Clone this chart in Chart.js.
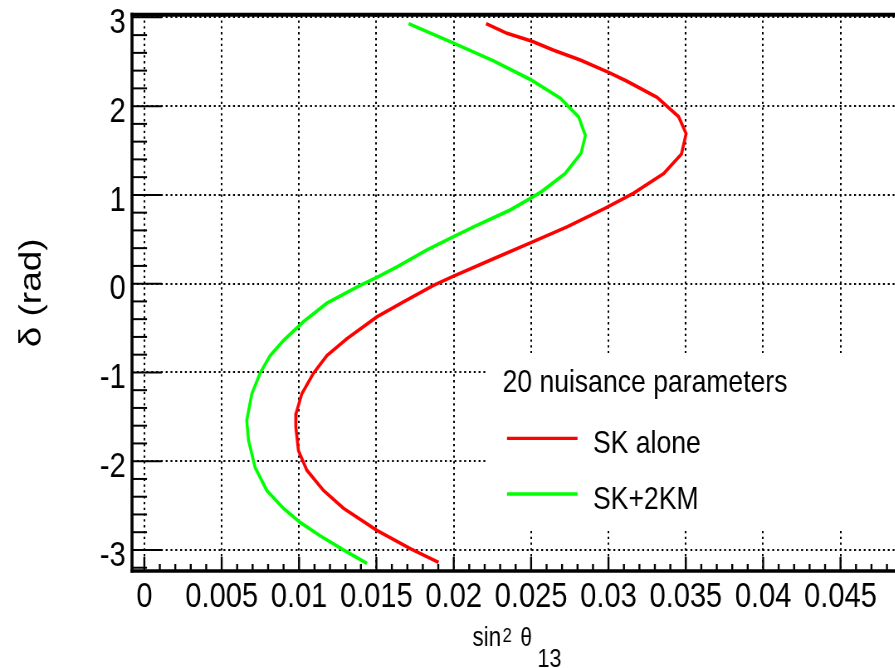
<!DOCTYPE html>
<html><head><meta charset="utf-8">
<script src="https://cdn.jsdelivr.net/npm/chart.js@4.4.0/dist/chart.umd.min.js"></script>
<style>
html,body{margin:0;padding:0;background:#fff;overflow:hidden;width:895px;height:668px}
canvas{display:block;transform:scaleX(0.83);transform-origin:0 0}
</style>
</head><body>
<canvas id="c" width="1104" height="668" style="width:1104px;height:668px"></canvas>
<script>
// ---- data ----
const SK_ALONE_X = [0.02209,0.02344,0.02506,0.02646,0.02818,0.03001,0.03120,0.03314,0.03454,0.03502,0.03472,0.03357,0.03163,0.02980,0.02732,0.02495,0.02257,0.01999,0.01869,0.01675,0.01503,0.01309,0.01180,0.01093,0.01018,0.00981,0.00979,0.00996,0.01050,0.01158,0.01287,0.01503,0.01719,0.01902];
const SK_ALONE_Y = [2.93,2.82,2.73,2.63,2.52,2.38,2.28,2.10,1.88,1.69,1.46,1.24,1.02,0.85,0.64,0.46,0.28,0.085,-0.02,-0.205,-0.374,-0.62,-0.81,-1.01,-1.24,-1.46,-1.61,-1.88,-2.10,-2.33,-2.53,-2.78,-2.985,-3.14];
const SK_2KM_X = [0.01708,0.01999,0.02257,0.02495,0.02689,0.02807,0.02851,0.02823,0.02720,0.02570,0.02495,0.02365,0.02128,0.01999,0.01827,0.01633,0.01503,0.01395,0.01180,0.01028,0.00900,0.00813,0.00748,0.00695,0.00662,0.00673,0.00716,0.00792,0.00899,0.01007,0.01136,0.01287,0.01439];
const SK_2KM_Y = [2.93,2.71,2.51,2.30,2.09,1.88,1.67,1.47,1.24,1.04,0.96,0.83,0.64,0.53,0.38,0.19,0.07,-0.02,-0.22,-0.43,-0.64,-0.81,-1.01,-1.24,-1.54,-1.76,-2.07,-2.33,-2.53,-2.69,-2.84,-3.00,-3.15];
const SERIES_LABELS = ['SK alone','SK+2KM'];
const SERIES_COLORS = ['#ff0000','#00ff00'];
const LEGEND_TITLE = '20 nuisance parameters';
const X_TICKS = [0,0.005,0.01,0.015,0.02,0.025,0.03,0.035,0.04,0.045];
const X_TICK_LABELS = ['0','0.005','0.01','0.015','0.02','0.025','0.03','0.035','0.04','0.045'];
const Y_TICKS = [-3,-2,-1,0,1,2,3];
const Y_TICK_LABELS = ['-3','-2','-1','0','1','2','3'];
const X_TITLE_PARTS = ['sin','2','\u03B8','13'];
const Y_TITLE = '\u03B4 (rad)';

const S = 0.83;               // horizontal squash of the whole picture
const FONT = '"Liberation Sans",Arial,sans-serif';
const sx = v => v / S;        // screen x -> canvas x

function pts(xs, ys){ return xs.map((x,i)=>({x:x, y:ys[i]})); }

const decor = {
  id:'decor',
  afterDatasetsDraw(chart){
    const ctx = chart.ctx, a = chart.chartArea;
    const xs = chart.scales.x, ys = chart.scales.y;
    ctx.save();
    ctx.strokeStyle = '#000';
    ctx.setLineDash([]);
    // x ticks (inside, upward)
    ctx.lineWidth = 2.4;
    for (let i = 0; i <= 49; i++) {
      const px = xs.getPixelForValue(i * 0.001);
      const len = (i % 5 === 0) ? 14 : 7;
      ctx.beginPath(); ctx.moveTo(px, a.bottom); ctx.lineTo(px, a.bottom - len); ctx.stroke();
    }
    // y ticks (inside, rightward)
    ctx.lineWidth = 2;
    for (let i = -16; i <= 15; i++) {
      const py = ys.getPixelForValue(i * 0.2);
      const len = (i % 5 === 0) ? sx(30) : sx(15);
      ctx.beginPath(); ctx.moveTo(a.left, py); ctx.lineTo(a.left + len, py); ctx.stroke();
    }
    // frame
    ctx.lineWidth = 3.6;
    ctx.beginPath(); ctx.moveTo(a.left, a.top - 2); ctx.lineTo(a.left, a.bottom + 1.6); ctx.stroke();
    ctx.lineWidth = 3.3;
    ctx.beginPath(); ctx.moveTo(a.left - 1.8, a.bottom); ctx.lineTo(a.right, a.bottom); ctx.stroke();
    ctx.lineWidth = 4;
    ctx.beginPath(); ctx.moveTo(a.left - 1.8, a.top); ctx.lineTo(a.right, a.top); ctx.stroke();

    // legend box
    ctx.fillStyle = '#fff';
    ctx.fillRect(sx(488), 353, sx(440), 175);
    ctx.fillStyle = '#000';
    ctx.textAlign = 'left';
    ctx.textBaseline = 'alphabetic';
    ctx.font = '32px ' + FONT;
    ctx.fillText(LEGEND_TITLE, sx(502.5), 391.7);
    const rows = [438.3, 494];
    const base = [452.7, 509.3];
    chart.data.datasets.forEach((ds, i) => {
      ctx.strokeStyle = ds.borderColor;
      ctx.lineWidth = 3.3;
      ctx.beginPath(); ctx.moveTo(sx(507), rows[i]); ctx.lineTo(sx(577.5), rows[i]); ctx.stroke();
      ctx.fillStyle = '#000';
      ctx.fillText(ds.label, sx(593), base[i]);
    });

    // x title: sin^2 theta_13
    ctx.fillStyle = '#000';
    ctx.font = '27px ' + FONT;
    ctx.fillText(X_TITLE_PARTS[0], sx(472.5), 645.7);
    ctx.font = '20px ' + FONT;
    ctx.fillText(X_TITLE_PARTS[1], sx(502.5), 642);
    ctx.font = '25px ' + FONT;
    ctx.fillText(X_TITLE_PARTS[2], sx(520.5), 645.7);
    ctx.font = '26px ' + FONT;
    ctx.fillText(X_TITLE_PARTS[3], sx(537.5), 666.5);
    ctx.restore();
  }
};

new Chart(document.getElementById('c'), {
  type: 'scatter',
  data: {
    datasets: [
      { label: SERIES_LABELS[0], data: pts(SK_ALONE_X, SK_ALONE_Y), showLine: true, borderColor: SERIES_COLORS[0], backgroundColor: SERIES_COLORS[0], borderWidth: 3.6, pointRadius: 0, tension: 0, fill: false },
      { label: SERIES_LABELS[1], data: pts(SK_2KM_X, SK_2KM_Y), showLine: true, borderColor: SERIES_COLORS[1], backgroundColor: SERIES_COLORS[1], borderWidth: 3.6, pointRadius: 0, tension: 0, fill: false }
    ]
  },
  options: {
    responsive: false,
    animation: false,
    events: [],
    layout: { padding: { top: 14.7, right: 0, bottom: 0, left: 0 } },
    plugins: { legend: { display: false }, tooltip: { enabled: false }, title: { display: false } },
    scales: {
      x: {
        type: 'linear', position: 'bottom',
        min: -0.000796, max: 0.0499,
        afterBuildTicks(s){ s.ticks = X_TICKS.map(v => ({value: v})); },
        afterFit(s){ s.height = 97; s.paddingLeft = 0; s.paddingRight = 0; },
        ticks: {
          includeBounds: false, maxRotation: 0, minRotation: 0, autoSkip: false, padding: 5,
          color: '#000', font: { family: FONT, size: 35 },
          callback(v){ const i = X_TICKS.indexOf(v); return i >= 0 ? X_TICK_LABELS[i] : ''; }
        },
        grid: { color: '#000', lineWidth: 2, drawTicks: false },
        border: { display: false, dash: [2.3, 3.5] }
      },
      y: {
        type: 'linear', position: 'left',
        min: -3.237, max: 3.03,
        afterBuildTicks(s){ s.ticks = Y_TICKS.map(v => ({value: v})); },
        afterFit(s){ s.width = sx(132); s.paddingTop = 0; s.paddingBottom = 0; },
        ticks: {
          includeBounds: false, autoSkip: false, padding: 7.6, labelOffset: 6,
          color: '#000', font: { family: FONT, size: 35 },
          callback(v){ const i = Y_TICKS.indexOf(v); return i >= 0 ? Y_TICK_LABELS[i] : ''; }
        },
        title: { display: true, text: Y_TITLE, color: '#000', font: { family: FONT, size: 37 }, padding: { top: 16.5, bottom: 0 } },
        grid: { color: '#000', lineWidth: 2, drawTicks: false },
        border: { display: false, dash: [2.3, 3.5] }
      }
    }
  },
  plugins: [decor]
});
</script>
</body></html>
